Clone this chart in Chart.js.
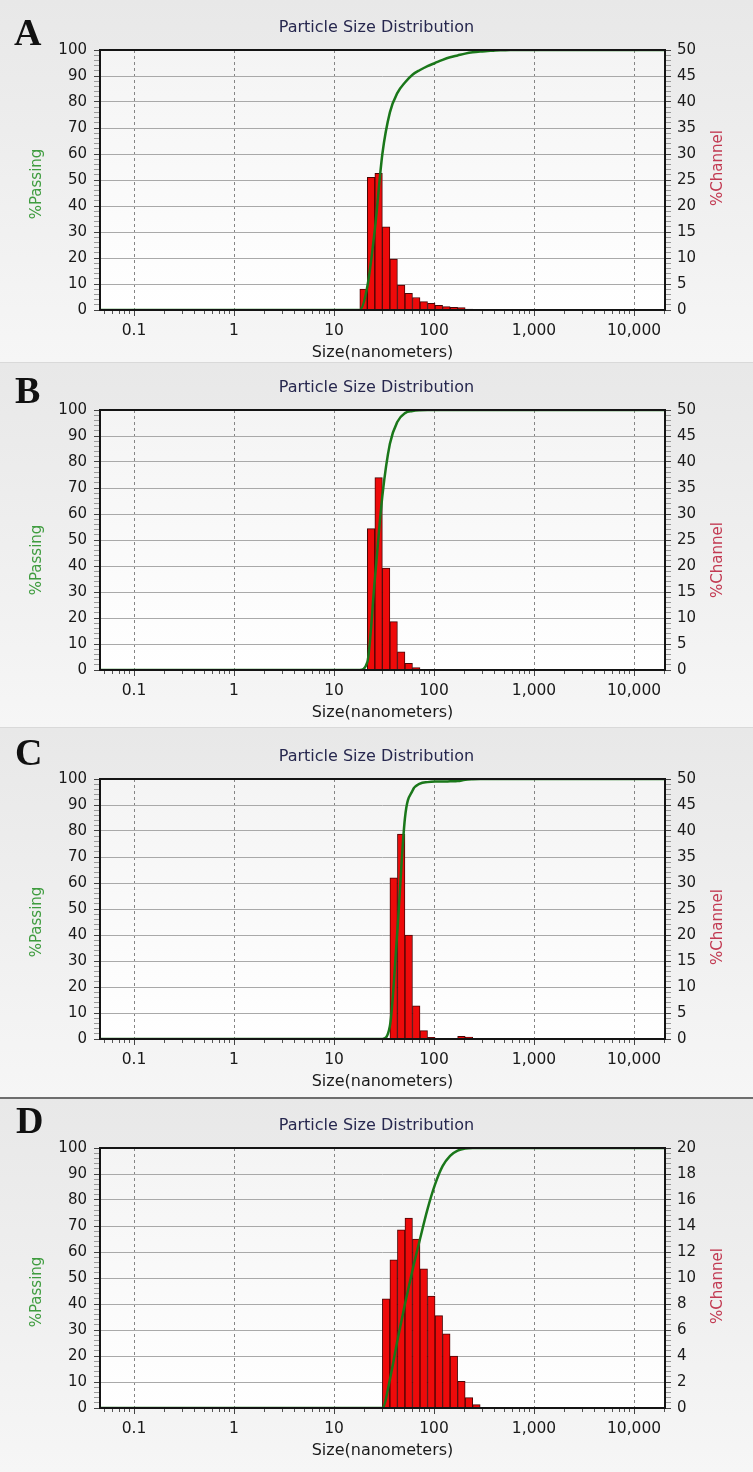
<!DOCTYPE html>
<html>
<head>
<meta charset="utf-8">
<title>Particle Size Distribution</title>
<script src="https://cdn.jsdelivr.net/npm/chart.js@4.4.1/dist/chart.umd.min.js"></script>
<style>
  html, body { margin: 0; padding: 0; }
  body { width: 753px; height: 1472px; position: relative; overflow: hidden; background: #d9d9d9; }
  .panel { position: absolute; left: 0; width: 753px; background: linear-gradient(#e8e8e8, #f6f6f6); }
  .tag { position: absolute; font: bold 38px "Liberation Serif", serif; line-height: 38px; color: #111; }
  .rule { position: absolute; left: 0; width: 753px; height: 2px; background: #6e6e6e; }
  canvas { position: absolute; left: 0; }
</style>
</head>
<body>
  <div class="panel" style="top:0; height:362px;"></div>
  <div class="panel" style="top:363px; height:364px;"></div>
  <div class="panel" style="top:728px; height:369px;"></div>
  <div class="rule" style="top:1097px;"></div>
  <div class="panel" style="top:1099px; height:373px;"></div>

  <canvas id="chartA" width="753" height="362" style="top:0;"></canvas>
  <canvas id="chartB" width="753" height="362" style="top:360px;"></canvas>
  <canvas id="chartC" width="753" height="362" style="top:729px;"></canvas>
  <canvas id="chartD" width="753" height="362" style="top:1098px;"></canvas>

  <div class="tag" style="left:14px; top:13px;">A</div>
  <div class="tag" style="left:15px; top:371px;">B</div>
  <div class="tag" style="left:15px; top:733px;">C</div>
  <div class="tag" style="left:16px; top:1101px;">D</div>

<script>
// channel sizes (nm, geometric centre of each Microtrac channel)
const binSizes = [16.60, 19.74, 23.48, 27.92, 33.19, 39.48, 46.95, 55.83, 66.40, 78.96, 93.90, 111.7,
                  132.8, 157.9, 187.8, 223.3, 265.5, 315.8, 375.6, 446.7, 531.2, 631.6];

// %Channel per size channel
const channelA = [0, 4.0, 25.5, 26.3, 16.0, 9.8, 4.8, 3.2, 2.4, 1.6, 1.3, 0.9, 0.65, 0.5, 0.45, 0.2, 0.15, 0.12, 0.1, 0.08, 0.05, 0];
const channelB = [0, 0, 27.2, 37.0, 19.6, 9.3, 3.5, 1.3, 0.45, 0.15, 0, 0, 0, 0, 0, 0, 0, 0, 0, 0, 0, 0];
const channelC = [0, 0, 0, 0, 0, 31.0, 39.4, 20.0, 6.4, 1.6, 0.3, 0, 0, 0.15, 0.5, 0.35, 0.15, 0, 0, 0, 0, 0];
const channelD = [0, 0, 0, 0, 8.4, 11.4, 13.7, 14.6, 13.0, 10.7, 8.6, 7.1, 5.7, 4.0, 2.05, 0.8, 0.26, 0.05, 0, 0, 0, 0];

// %Passing (cumulative curve) read at channel edges
const passSizesA = [0.04, 18.1, 21.53, 25.6, 30.44, 36.2, 43.05, 51.2, 60.89, 72.41, 86.11, 102.4, 121.8,
                    144.8, 172.2, 204.8, 243.5, 289.6, 344.4, 409.6, 487.1, 579.2, 25000];
const passingA = [0, 0, 9, 31, 60, 76, 83.5, 87.5, 90.5, 92.3, 93.8, 95, 96.2, 97.2, 97.9, 98.6, 99.1, 99.4, 99.6, 99.8, 99.9, 100, 100];

const passSizesB = [0.04, 18.1, 21.53, 25.6, 30.44, 36.2, 43.05, 51.2, 60.89, 72.41, 86.11, 25000];
const passingB = [0, 0, 3, 35, 67, 87, 95.5, 98.8, 99.6, 99.9, 100, 100];

const passSizesC = [0.04, 30.44, 36.2, 43.05, 51.2, 60.89, 72.41, 86.11, 102.4, 121.8, 144.8, 172.2, 204.8, 243.5, 289.6, 25000];
const passingC = [0, 0, 5, 42, 85, 95.5, 98.2, 98.8, 99, 99, 99.1, 99.2, 99.7, 99.9, 100, 100];

const passSizesD = [0.04, 30.44, 36.2, 43.05, 51.2, 60.89, 72.41, 86.11, 102.4, 121.8, 144.8, 172.2, 204.8, 243.5, 25000];
const passingD = [0, 0, 11, 26, 40, 53, 65, 76.5, 86, 93, 97, 99, 99.8, 100, 100];

// axis ticks
const sizeTicks = [0.1, 1, 10, 100, 1000, 10000];
const sizeTickLabels = ['0.1', '1', '10', '100', '1,000', '10,000'];
const passingTicks = [0, 10, 20, 30, 40, 50, 60, 70, 80, 90, 100];
const channelTicks50 = [0, 5, 10, 15, 20, 25, 30, 35, 40, 45, 50];
const channelTicks20 = [0, 2, 4, 6, 8, 10, 12, 14, 16, 18, 20];

const FONT = '"DejaVu Sans", Verdana, sans-serif';
const X_MIN = 0.0457, X_MAX = 20400;

// ruler style ticks: labelled majors with 4 unlabelled minors between
function rulerTicks(labels) {
  return scale => {
    const ticks = [];
    for (let i = 0; i < labels.length - 1; i++) {
      const a = labels[i], b = labels[i + 1];
      for (let k = 0; k < 5; k++) ticks.push({ value: a + (b - a) * k / 5, major: k === 0 });
    }
    ticks.push({ value: labels[labels.length - 1], major: true });
    scale.ticks = ticks;
  };
}

const frame = {
  id: 'frame',
  beforeDraw(chart) {
    const { ctx, chartArea: a } = chart;
    ctx.save();
    const g = ctx.createLinearGradient(0, a.top, 0, a.bottom);
    g.addColorStop(0, '#f4f4f4');
    g.addColorStop(1, '#ffffff');
    ctx.fillStyle = g;
    ctx.fillRect(a.left, a.top, a.right - a.left, a.bottom - a.top);
    ctx.restore();
  },
  afterDraw(chart, args, opts) {
    const { ctx, chartArea: a } = chart;
    const x = chart.scales.x;
    ctx.save();
    // minor ticks under the size axis
    ctx.strokeStyle = '#555';
    ctx.lineWidth = 1;
    ctx.beginPath();
    for (let d = 0.01; d < 1e5; d *= 10) {
      for (let m = 2; m <= 9; m++) {
        const v = m * d;
        if (v < X_MIN || v > X_MAX) continue;
        const px = Math.round(x.getPixelForValue(v)) + 0.5;
        ctx.moveTo(px, a.bottom);
        ctx.lineTo(px, a.bottom + 4);
      }
    }
    ctx.stroke();
    // plot frame
    ctx.strokeStyle = '#141414';
    ctx.lineWidth = 2;
    ctx.strokeRect(a.left, a.top, a.right - a.left, a.bottom - a.top);
    // side titles, both reading upward
    ctx.font = '15px ' + FONT;
    ctx.textAlign = 'center';
    ctx.textBaseline = 'middle';
    const mid = (a.top + a.bottom) / 2;
    ctx.translate(37, mid + opts.passOffset);
    ctx.rotate(-Math.PI / 2);
    ctx.fillStyle = '#3f9c3f';
    ctx.fillText('%Passing', 0, 0);
    ctx.setTransform(1, 0, 0, 1, 0, 0);
    ctx.translate(718, mid + opts.chanOffset);
    ctx.rotate(-Math.PI / 2);
    ctx.fillStyle = '#c23a52';
    ctx.fillText('%Channel', 0, 0);
    ctx.restore();
  }
};

function makePanel(id, channel, passSizes, passing, chanTicks, passOffset, chanOffset) {
  const tickFont = { family: FONT, size: 15 };
  const sizeFont = { family: FONT, size: 15.5 };
  new Chart(document.getElementById(id), {
    type: 'bar',
    data: {
      datasets: [
        {
          type: 'line',
          data: passSizes.map((s, i) => ({ x: s, y: passing[i] })),
          yAxisID: 'y',
          borderColor: '#1a771a',
          borderWidth: 2.5,
          pointRadius: 0,
          cubicInterpolationMode: 'monotone',
          order: 0
        },
        {
          type: 'bar',
          data: binSizes.map((s, i) => ({ x: s, y: channel[i] })),
          yAxisID: 'y2',
          backgroundColor: '#ee0a0a',
          borderColor: '#4a0505',
          borderWidth: 1,
          barPercentage: 1,
          categoryPercentage: 1,
          order: 1
        }
      ]
    },
    options: {
      responsive: false,
      animation: false,
      events: [],
      layout: { padding: 0 },
      plugins: {
        legend: { display: false },
        tooltip: { enabled: false },
        title: {
          display: true,
          text: 'Particle Size Distribution',
          color: '#27284f',
          font: { family: FONT, size: 16, weight: 'normal' },
          padding: { top: 18.4, bottom: 12.4 }
        },
        frame: { passOffset, chanOffset }
      },
      scales: {
        x: {
          type: 'logarithmic',
          min: X_MIN,
          max: X_MAX,
          offset: false,
          afterBuildTicks: s => { s.ticks = sizeTicks.map(v => ({ value: v, major: true })); },
          afterFit: s => { s.height = 52; },
          ticks: { autoSkip: false, maxRotation: 0, padding: 6, color: '#1a1a1a', font: sizeFont,
                   callback: (v, i) => sizeTickLabels[i] },
          grid: { offset: false, color: '#858585', lineWidth: 1, tickLength: 6, tickColor: '#444' },
          border: { display: false, dash: [3, 3] },
          title: { display: true, text: 'Size(nanometers)', color: '#1a1a1a',
                   font: { family: FONT, size: 16 }, padding: 0 }
        },
        y: {
          position: 'left',
          min: 0,
          max: 100,
          afterBuildTicks: rulerTicks(passingTicks),
          afterFit: s => { s.width = 100; },
          ticks: { autoSkip: false, padding: 7, color: '#1a1a1a', font: tickFont,
                   callback: (v, i, t) => (t[i].major ? v : '') },
          grid: { color: c => (c.tick && c.tick.major ? '#a9a9a9' : 'rgba(0,0,0,0)'),
                  tickColor: c => (c.tick && c.tick.major ? '#444' : '#999'), tickLength: 6 },
          border: { display: false }
        },
        y2: {
          position: 'right',
          min: 0,
          max: chanTicks[chanTicks.length - 1],
          afterBuildTicks: rulerTicks(chanTicks),
          afterFit: s => { s.width = 88; },
          ticks: { autoSkip: false, padding: 6, color: '#1a1a1a', font: tickFont,
                   callback: (v, i, t) => (t[i].major ? v : '') },
          grid: { drawOnChartArea: false,
                  tickColor: c => (c.tick && c.tick.major ? '#444' : '#999'), tickLength: 6 },
          border: { display: false }
        }
      }
    },
    plugins: [frame]
  });
}

makePanel('chartA', channelA, passSizesA, passingA, channelTicks50, 4, -12);
makePanel('chartB', channelB, passSizesB, passingB, channelTicks50, 20, 20);
makePanel('chartC', channelC, passSizesC, passingC, channelTicks50, 13, 18);
makePanel('chartD', channelD, passSizesD, passingD, channelTicks20, 14, 8);
</script>
</body>
</html>
